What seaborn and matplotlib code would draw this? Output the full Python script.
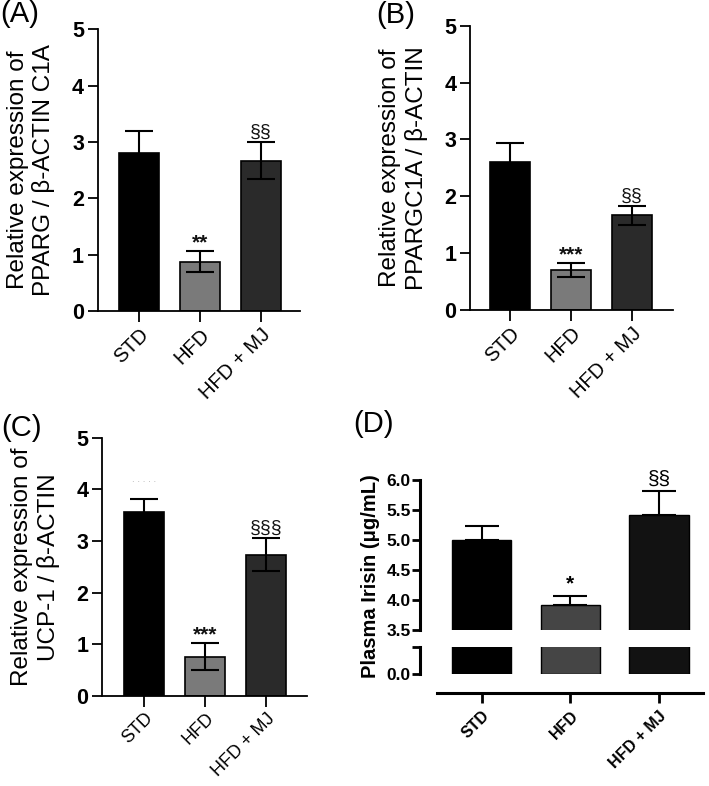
import matplotlib
matplotlib.use("Agg")
import matplotlib.pyplot as plt
import seaborn as sns
import numpy as np

groups = ["STD", "HFD", "HFD + MJ"]

# (A) PPARG
pparg_mean = [2.80, 0.88, 2.67]
pparg_sem = [0.40, 0.18, 0.33]
pparg_marks = ["", "**", "§§"]

# (B) PPARGC1A
pgc_mean = [2.60, 0.70, 1.66]
pgc_sem = [0.33, 0.13, 0.16]
pgc_marks = ["", "***", "§§"]

# (C) UCP-1
ucp_mean = [3.57, 0.76, 2.74]
ucp_sem = [0.25, 0.26, 0.32]
ucp_marks = ["", "***", "§§§"]

# (D) plasma irisin
irisin_mean = [5.00, 3.93, 5.42]
irisin_sem = [0.23, 0.14, 0.40]
irisin_marks = ["", "*", "§§"]

colors_abc = ["#000000", "#7a7a7a", "#2a2a2a"]
colors_d = ["#000000", "#454545", "#121212"]

sns.set_style("ticks")
plt.rcParams['font.family'] = ['Liberation Sans', 'DejaVu Sans']
plt.rcParams['axes.linewidth'] = 1.3
for k in ('text.color', 'axes.labelcolor', 'xtick.color', 'ytick.color', 'axes.edgecolor'):
    plt.rcParams[k] = 'black'

W, H = 709, 786
fig = plt.figure(figsize=(W / 100, H / 100), dpi=100)


def px(x, y):
    # pixel position (from top-left) -> figure fraction
    return x / W, 1 - y / H


def expr_panel(rect, means, sems, marks, ylabel, xlim, xfs=14.5):
    ax = fig.add_axes(rect)
    sns.barplot(x=groups, y=means, hue=groups, palette=colors_abc, legend=False,
                ax=ax, edgecolor="black", linewidth=1.2, width=0.65, saturation=1)
    ax.errorbar(x=np.arange(3), y=means, yerr=sems, fmt="none", ecolor="black",
                elinewidth=1.5, capsize=10, capthick=1.5, zorder=3)
    for i, m in enumerate(marks):
        if m:
            bold = "*" in m
            ax.annotate(m, (i, means[i] + sems[i]), xytext=(0, -1 if bold else 1),
                        textcoords="offset points", ha="center", va="bottom",
                        fontsize=15 if bold else 14,
                        fontweight="bold" if bold else "normal", color="#111111")
    ax.set_ylim(0, 5)
    ax.set_xlim(*xlim)
    ax.set_yticks([0, 1, 2, 3, 4, 5])
    sns.despine(ax=ax)
    ax.tick_params(axis="y", length=7, width=1.3, labelsize=15.5, pad=3)
    ax.tick_params(axis="x", length=8, width=1.3, pad=2)
    for t in ax.get_yticklabels():
        t.set_fontweight("bold")
    ax.set_xticks(range(3))
    ax.set_xticklabels(groups, rotation=45, ha="right", rotation_mode="anchor",
                       fontsize=xfs)
    ax.set_ylabel(ylabel, fontsize=17.5, labelpad=12, linespacing=1.2)
    ax.set_xlabel("")
    return ax


axA = expr_panel([0.138, 0.604, 0.285, 0.359], pparg_mean, pparg_sem, pparg_marks,
                 "Relative expression of\nPPARG / β-ACTIN C1A", (-0.67, 2.64))
axB = expr_panel([0.663, 0.606, 0.286, 0.361], pgc_mean, pgc_sem, pgc_marks,
                 "Relative expression of\nPPARGC1A / β-ACTIN", (-0.66, 2.67))
axC = expr_panel([0.144, 0.1145, 0.289, 0.3285], ucp_mean, ucp_sem, ucp_marks,
                 "Relative expression of\nUCP-1 / β-ACTIN", (-0.69, 2.67), xfs=13)
axC.text(0, 4.1, ". . . . .", ha="center", va="bottom", fontsize=7, color="#aaaaaa")

for letter, (x, y) in [("(A)", (0, 0.5)), ("(B)", (376, 1)), ("(C)", (1, 414)), ("(D)", (353, 410))]:
    fx, fy = px(x, y)
    fig.text(fx, fy, letter, fontsize=21, va="top", ha="left")

# (D) broken axis
xlim_d = (-0.70, 2.50)
ax_top = fig.add_axes([0.592, 0.198, 0.40, 0.191])
ax_bot = fig.add_axes([0.592, 0.1425, 0.40, 0.0345])
for ax in (ax_top, ax_bot):
    sns.barplot(x=groups, y=irisin_mean, hue=groups, palette=colors_d, legend=False,
                ax=ax, edgecolor="black", linewidth=1.0, width=0.67, saturation=1)
    ax.set_xlim(*xlim_d)
    ax.set_xlabel("")
    ax.set_ylabel("")
    for s in ("top", "right"):
        ax.spines[s].set_visible(False)
    ax.spines["left"].set_linewidth(2.2)

ax_top.errorbar(x=np.arange(3), y=irisin_mean,
                yerr=[[0, 0, 0], irisin_sem], fmt="none", ecolor="black",
                elinewidth=1.5, capsize=12, capthick=1.5, zorder=3)
for i, m in enumerate(irisin_marks):
    if m:
        bold = "*" in m
        ax_top.annotate(m, (i, irisin_mean[i] + irisin_sem[i]), xytext=(0, 2),
                        textcoords="offset points", ha="center", va="bottom",
                        fontsize=15, fontweight="bold" if bold else "normal")
ax_top.set_ylim(3.5, 6.0)
ax_top.set_yticks([3.5, 4.0, 4.5, 5.0, 5.5, 6.0])
ax_top.set_yticklabels(["3.5", "4.0", "4.5", "5.0", "5.5", "6.0"])
ax_top.spines["bottom"].set_visible(False)
ax_top.tick_params(axis="x", bottom=False, labelbottom=False)
ax_top.tick_params(axis="y", length=6, width=2, labelsize=12.5, pad=0.5)

ax_bot.set_ylim(0, 1)
ax_bot.set_yticks([0, 1])
ax_bot.set_yticklabels(["0.0", ""])
ax_bot.tick_params(axis="y", length=6, width=2, labelsize=12.5, pad=0.5)
ax_bot.spines["bottom"].set_position(("outward", 14))
ax_bot.spines["bottom"].set_bounds(-0.5, 2.5)
ax_bot.spines["bottom"].set_linewidth(2.2)
ax_bot.set_xticks(range(3))
ax_bot.set_xticklabels(groups, rotation=45, ha="right", rotation_mode="anchor",
                       fontsize=11.5, fontweight="bold")
ax_bot.tick_params(axis="x", length=7, width=2)
for ax in (ax_top, ax_bot):
    for t in ax.get_yticklabels():
        t.set_fontweight("bold")

fx, fy = px(370, 576)
fig.text(fx, fy, "Plasma Irisin (μg/mL)", rotation=90, ha="center",
         va="center", fontsize=14.5, fontweight="bold")

fig.savefig("out.png", dpi=100)
